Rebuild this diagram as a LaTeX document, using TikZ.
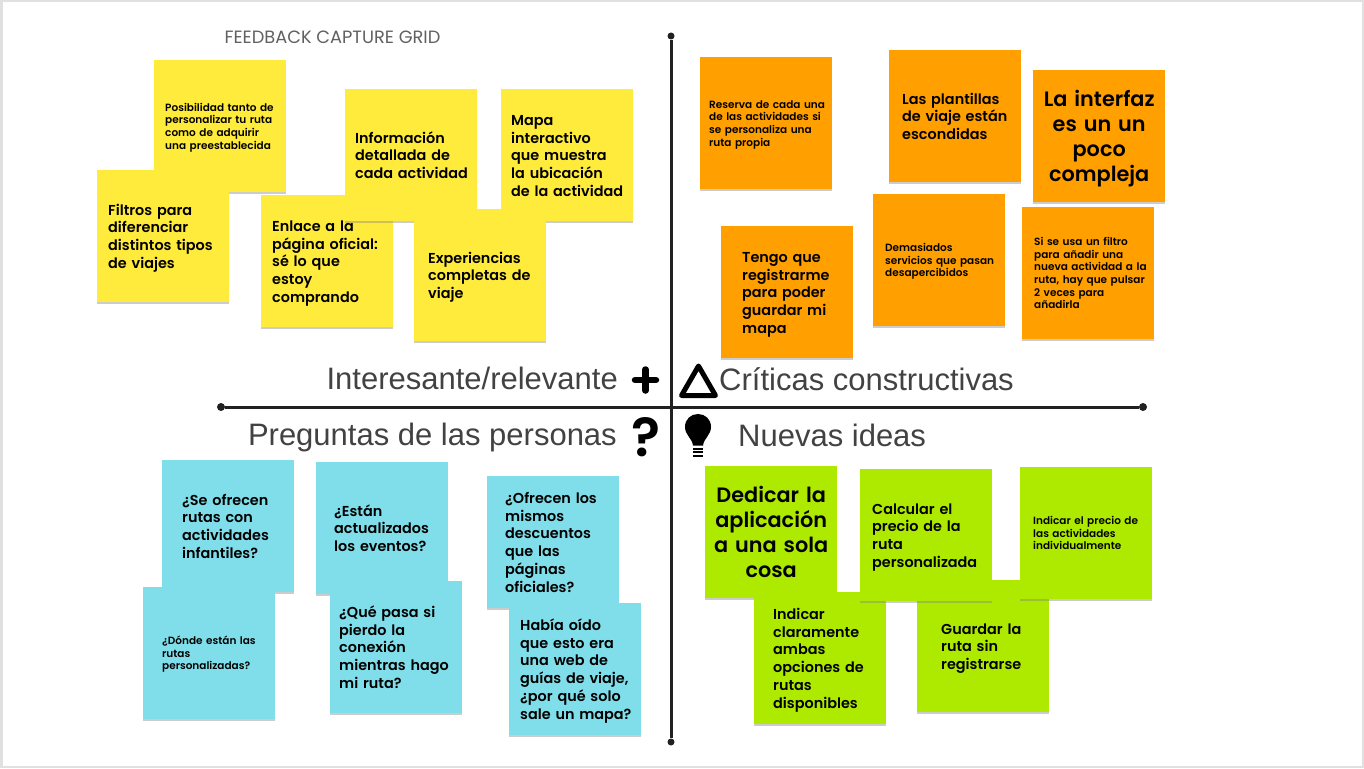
\documentclass[tikz,border=0pt]{standalone}
\usepackage{fontspec}
\setmainfont{Poppins}[BoldFont={Poppins SemiBold}]
\newfontfamily\labelfont{Liberation Sans}
\usetikzlibrary{shadows}
\definecolor{noteyellow}{HTML}{FFEB3B}
\definecolor{noteorange}{HTML}{FF9F00}
\definecolor{noteblue}{HTML}{80DEEA}
\definecolor{notegreen}{HTML}{AEEA00}
\definecolor{labelgray}{HTML}{424242}
\definecolor{axisgray}{HTML}{212121}
\begin{document}
\begin{tikzpicture}[x=1pt,y=-1pt,font=\bfseries]
% Note styles: box first, then the three text sizes
\tikzstyle{note}=[anchor=north west,text width=132pt,minimum height=132pt,inner sep=0pt,align=left,execute at begin node=\rule{0pt}{.93\baselineskip},execute at end node=\strut,drop shadow={shadow xshift=0pt,shadow yshift=-2pt,opacity=.4}];
\tikzset{pad/.style={execute at begin node={\leftskip=#1pt\rightskip=-30pt plus 1fil}}}
\tikzstyle{small note}=[note,font=\fontsize{10.5}{12.6}\selectfont\bfseries];
\tikzstyle{mid note}=[note,font=\fontsize{14.4}{17.7}\selectfont\bfseries];
\tikzstyle{large note}=[note,align=center,font=\fontsize{20.8}{24.8}\selectfont\bfseries];
\tikzstyle{heading}=[text=labelgray,inner sep=0pt,font=\fontsize{31}{36}\labelfont\mdseries];
\tikzstyle{axis end}=[circle,fill=axisgray,inner sep=0pt,minimum size=8pt];
\tikzstyle{axis}=[axisgray,line width=3pt];
% Page frame
\path[fill=black!12] (0,0) rectangle (1364,768);
\path[fill=white] (3,2) rectangle (1362,766);
\useasboundingbox (0,0) rectangle (1364,768);
% Title
\node(title)[inner sep=0pt,text=black!62] at (332.5,37) {\fontsize{17.8}{20}\selectfont\mdseries FEEDBACK CAPTURE GRID};
% Axes
\node(top)[axis end,minimum size=7pt] at (671,36) {};
\node(bottom)[axis end,minimum size=7pt] at (671,742) {};
\node(left)[axis end] at (221,407) {};
\node(right)[axis end] at (1143,407) {};
\draw[axis] (top)--(bottom);
\draw[axis] (left)--(right);
% Quadrant headings
\node(plus head)[heading,anchor=base east] at (618,389) {Interesante/relevante};
\node(delta head)[heading,anchor=base west] at (719,390) {Críticas constructivas};
\node(ask head)[heading,anchor=base east] at (617,445) {Preguntas de las personas};
\node(idea head)[heading,anchor=base west] at (738,446) {Nuevas ideas};
% Icons
\draw[line width=6.5pt,line cap=round] (635,380)--(656,380) (645.5,369.5)--(645.5,390.5);
\draw[line width=5pt,line join=round] (698.5,366)--(681.5,395.5)--(715.5,395.5)--cycle;
\node(ask icon)[inner sep=0pt] at (646,437) {\fontsize{54}{54}\selectfont\bfseries ?};
\fill (693,445.5) .. controls (692,438) and (685,435) .. (685,427) .. controls (685,419) and (691,414) .. (698,414) .. controls (705,414) and (711,419) .. (711,427) .. controls (711,435) and (704,438) .. (703,445.5) -- cycle;
\foreach \y in {448.5,452,455.5} \draw[line width=2pt] (693,\y)--(703,\y);
% Yellow notes
\node(posib)[small note,pad=11,fill=noteyellow] at (154,60) {Posibilidad tanto de\\personalizar tu ruta\\como de adquirir\\una preestablecida};
\node(filtros)[mid note,pad=11,fill=noteyellow] at (97,170) {Filtros para\\diferenciar\\distintos tipos\\de viajes};
\node(enlace)[mid note,pad=11,fill=noteyellow] at (261,195) {Enlace a la\\página oficial:\\sé lo que\\estoy\\comprando};
\node(info)[mid note,pad=10,fill=noteyellow] at (345,89) {Información\\detallada de\\cada actividad};
\node(mapa)[mid note,pad=10,fill=noteyellow] at (501,89) {Mapa\\interactivo\\que muestra\\la ubicación\\de la actividad};
\node(exper)[mid note,pad=14,fill=noteyellow] at (414,209) {Experiencias\\completas de\\viaje};
% Orange notes
\node(reserva)[small note,pad=9,fill=noteorange] at (700,57) {Reserva de cada una\\de las actividades si\\se personaliza una\\ruta propia};
\node(plantillas)[mid note,pad=13,fill=noteorange] at (889,50) {Las plantillas\\de viaje están\\escondidas};
\node(interfaz)[large note,fill=noteorange] at (1033,70) {La interfaz\\es un un\\poco\\compleja};
\node(tengo)[mid note,pad=21,fill=noteorange] at (721,226) {Tengo que\\registrarme\\para poder\\guardar mi\\mapa};
\node(demas)[small note,pad=12,fill=noteorange] at (873,194) {Demasiados\\servicios que pasan\\desapercibidos};
\node(filtro)[small note,pad=12,fill=noteorange] at (1022,207) {Si se usa un filtro\\para añadir una\\nueva actividad a la\\ruta, hay que pulsar\\2 veces para\\añadirla};
% Blue notes
\node(ofrecen)[mid note,pad=20,fill=noteblue] at (162,460) {¿Se ofrecen\\rutas con\\actividades\\infantiles?};
\node(estan)[mid note,pad=18,fill=noteblue] at (316,462) {¿Están\\actualizados\\los eventos?};
\node(mismos)[mid note,pad=18,fill=noteblue] at (487,476) {¿Ofrecen los\\mismos\\descuentos\\que las\\páginas\\oficiales?};
\node(donde)[small note,pad=19,fill=noteblue] at (143,587) {¿Dónde están las\\rutas\\personalizadas?};
\node(pasa)[mid note,pad=9,fill=noteblue] at (330,581) {¿Qué pasa si\\pierdo la\\conexión\\mientras hago\\mi ruta?};
\node(oido)[mid note,pad=11,fill=noteblue] at (509,603) {Había oído\\que esto era\\una web de\\guías de viaje,\\¿por qué solo\\sale un mapa?};
% Green notes
\node(dedicar)[large note,fill=notegreen] at (705,466) {Dedicar la\\aplicación\\a una sola\\cosa};
\node(indicar)[mid note,pad=19,fill=notegreen] at (754,592) {Indicar\\claramente\\ambas\\opciones de\\rutas\\disponibles};
\node(guardar)[mid note,pad=24,fill=notegreen] at (917,580) {Guardar la\\ruta sin\\registrarse};
\node(calcular)[mid note,pad=12,fill=notegreen] at (860,469) {Calcular el\\precio de la\\ruta\\personalizada};
\node(precio)[small note,pad=13,fill=notegreen] at (1020,467) {Indicar el precio de\\las actividades\\individualmente};
\end{tikzpicture}
\end{document}
